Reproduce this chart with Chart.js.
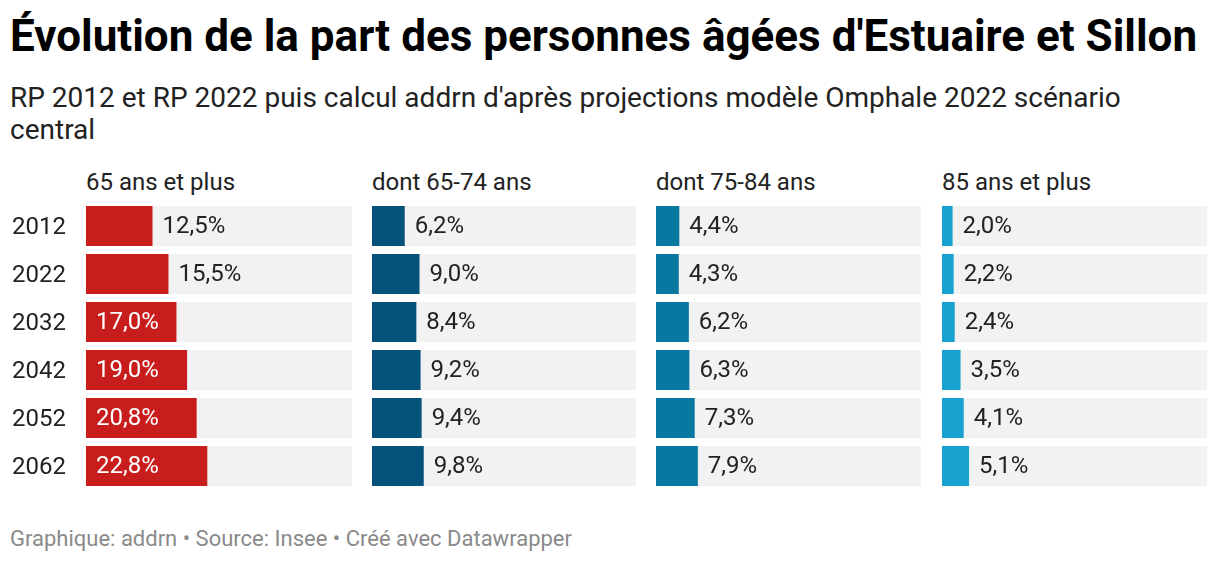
<!DOCTYPE html>
<html><head><meta charset="utf-8">
<script src="https://cdn.jsdelivr.net/npm/chart.js@4"></script>
<style>
html,body{margin:0;padding:0;background:#fff;}
body{width:1220px;height:562px;position:relative;overflow:hidden;font-family:Roboto,sans-serif;color:#1d1d1d;}
.t{position:absolute;white-space:nowrap;}
#title{left:10px;top:14px;font-size:44px;line-height:44px;font-weight:700;color:#000;}
#sub{left:10px;top:82px;font-size:28px;line-height:32px;color:#222;}
.hd{top:170px;font-size:24px;line-height:24px;color:#222;}
#foot{left:10px;top:528px;font-size:22px;line-height:22px;color:#8a8a8a;}
canvas{position:absolute;}
</style></head><body>
<div id="title" class="t">Évolution de la part des personnes âgées d'Estuaire et Sillon</div>
<div id="sub" class="t">RP 2012 et RP 2022 puis calcul addrn d'après projections modèle Omphale 2022 scénario<br>central</div>
<div class="t hd" style="left:86px">65 ans et plus</div>
<div class="t hd" style="left:372px">dont 65-74 ans</div>
<div class="t hd" style="left:656px">dont 75-84 ans</div>
<div class="t hd" style="left:942px">85 ans et plus</div>
<div id="foot" class="t">Graphique: addrn • Source: Insee • Créé avec Datawrapper</div>
<div id="wrap"></div>
<script>
const years = ["2012","2022","2032","2042","2052","2062"];
const plus65 = [12.5,15.5,17.0,19.0,20.8,22.8];
const age65_74 = [6.2,9.0,8.4,9.2,9.4,9.8];
const age75_84 = [4.4,4.3,6.2,6.3,7.3,7.9];
const plus85 = [2.0,2.2,2.4,3.5,4.1,5.1];
const scaleMax = 50;

const panels = [
  {data:plus65, color:'#c71e1d', left:0, width:352, yAxis:true},
  {data:age65_74, color:'#05527a', left:372, width:264, yAxis:false},
  {data:age75_84, color:'#0878a1', left:656, width:265, yAxis:false},
  {data:plus85, color:'#18a2d0', left:942, width:265, yAxis:false}
];

const fmt = v => v.toFixed(1).replace('.', ',') + '%';

const trackPlugin = {
  id:'track',
  beforeDatasetsDraw(chart){
    const ctx = chart.ctx, a = chart.chartArea;
    const meta = chart.getDatasetMeta(0);
    ctx.save();
    ctx.fillStyle = '#f2f2f2';
    meta.data.forEach(b => {
      ctx.fillRect(a.left, b.y - b.height/2, a.right - a.left, b.height);
    });
    ctx.restore();
  }
};
const labelPlugin = {
  id:'vlabels',
  afterDatasetsDraw(chart){
    const ctx = chart.ctx;
    const meta = chart.getDatasetMeta(0);
    const vals = chart.data.datasets[0].data;
    ctx.save();
    ctx.font = '24px Roboto, sans-serif';
    ctx.textBaseline = 'middle';
    ctx.textAlign = 'left';
    meta.data.forEach((b,i) => {
      const txt = fmt(vals[i]);
      const w = ctx.measureText(txt).width;
      const bw = b.x - b.base;
      if (bw >= w + 24) {
        ctx.fillStyle = '#fff';
        ctx.fillText(txt, b.base + 10, b.y + 1);
      } else {
        ctx.fillStyle = '#222';
        ctx.fillText(txt, b.x + 10, b.y + 1);
      }
    });
    ctx.restore();
  }
};

const wrap = document.getElementById('wrap');
panels.forEach(p => {
  const c = document.createElement('canvas');
  c.style.left = p.left + 'px';
  c.style.top = '202px';
  c.style.width = p.width + 'px';
  c.style.height = '288px';
  c.width = p.width; c.height = 288;
  wrap.appendChild(c);
  const yScale = {display:p.yAxis, grid:{display:false, drawTicks:false}, border:{display:false},
     ticks:{font:{family:'Roboto', size:24}, color:'#222', crossAlign:'far', padding:0, labelOffset:2}};
  if (p.yAxis) {
    yScale.afterFit = s => { s.width = 74; s.paddingTop = 0; s.paddingBottom = 0; };
  }
  new Chart(c, {
    type:'bar',
    data:{labels:years, datasets:[{data:p.data, backgroundColor:p.color, borderWidth:0,
      categoryPercentage:1, barPercentage:40/48}]},
    options:{
      indexAxis:'y', responsive:false, animation:false,
      layout:{padding:{left:p.yAxis?12:0, right:0, top:0, bottom:0}},
      plugins:{legend:{display:false}, tooltip:{enabled:false}},
      scales:{
        x:{display:false, min:0, max:scaleMax},
        y:yScale
      }
    },
    plugins:[trackPlugin, labelPlugin]
  });
});
</script>
</body></html>
